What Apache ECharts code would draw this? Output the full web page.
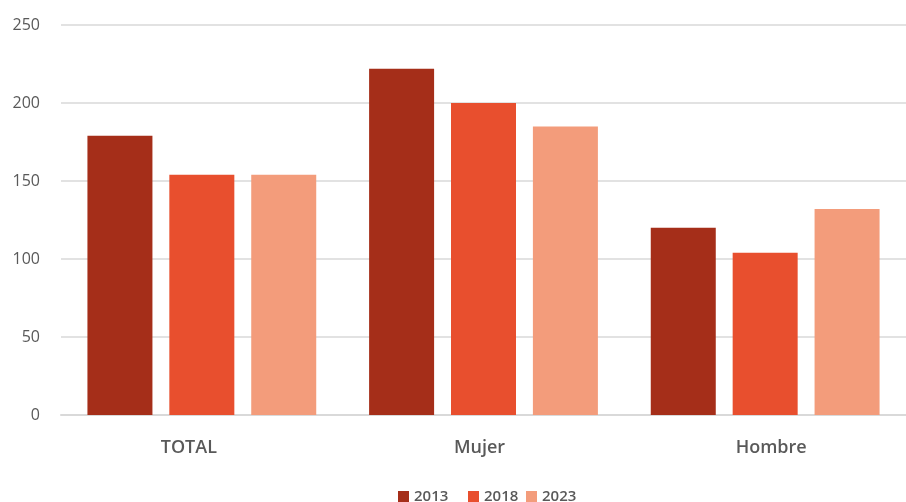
<!DOCTYPE html>
<html><head><meta charset="utf-8">
<script src="https://cdn.jsdelivr.net/npm/echarts@6/dist/echarts.min.js"></script>
<style>html,body{margin:0;padding:0;background:#fff}#c{width:906px;height:502px}</style>
</head><body><div id="c"></div>
<script>
const categories = ['TOTAL', 'Mujer', 'Hombre'];
const seriesNames = ['2013', '2018', '2023'];
const values2013 = [179, 222, 120];
const values2018 = [154, 200, 104];
const values2023 = [154, 185, 132];
const colors = ['#A52E19', '#E84F2E', '#F39C7B'];
const yTicks = { min: 0, max: 250, interval: 50 };

const data = [values2013, values2018, values2023];
// horizontal nudges of category labels (px, + = right), as in the reference layout
const labelShift = [-13, -4, 6];
const legendLeft = [398, 468, 526];

const rich = {};
categories.forEach((c, i) => {
  const s = labelShift[i];
  rich['l' + i] = {
    color: '#595959', fontSize: 18, fontWeight: 600, fontFamily: 'Open Sans',
    padding: s < 0 ? [0, -2 * s, 0, 0] : [0, 0, 0, 2 * s]
  };
});

const chart = echarts.init(document.getElementById('c'));
chart.setOption({
  animation: false,
  textStyle: { fontFamily: 'Open Sans' },
  grid: { left: 61, right: -3, top: 25, bottom: 87 },
  legend: seriesNames.map((n, i) => ({
    top: 489, left: legendLeft[i], itemWidth: 11, itemHeight: 11,
    icon: 'rect', padding: 0,
    textStyle: { color: '#595959', fontSize: 15, fontWeight: 600, fontFamily: 'Open Sans' },
    data: [n]
  })),
  xAxis: {
    type: 'category', data: categories,
    axisLine: { show: true, lineStyle: { color: '#d9d9d9', width: 2 } },
    axisTick: { show: false },
    axisLabel: {
      margin: 24,
      formatter: (v, i) => '{l' + i + '|' + v + '}',
      rich: rich
    }
  },
  yAxis: {
    type: 'value', min: yTicks.min, max: yTicks.max, interval: yTicks.interval,
    axisLine: { show: false }, axisTick: { show: false },
    axisLabel: { color: '#595959', fontSize: 16, margin: 21, fontFamily: 'Open Sans' },
    splitLine: { lineStyle: { color: '#d9d9d9', width: 1.5 } }
  },
  series: seriesNames.map((n, i) => ({
    name: n, type: 'bar', data: data[i], barWidth: 65, barGap: '26%',
    itemStyle: { color: colors[i] }
  }))
});
</script></body></html>
